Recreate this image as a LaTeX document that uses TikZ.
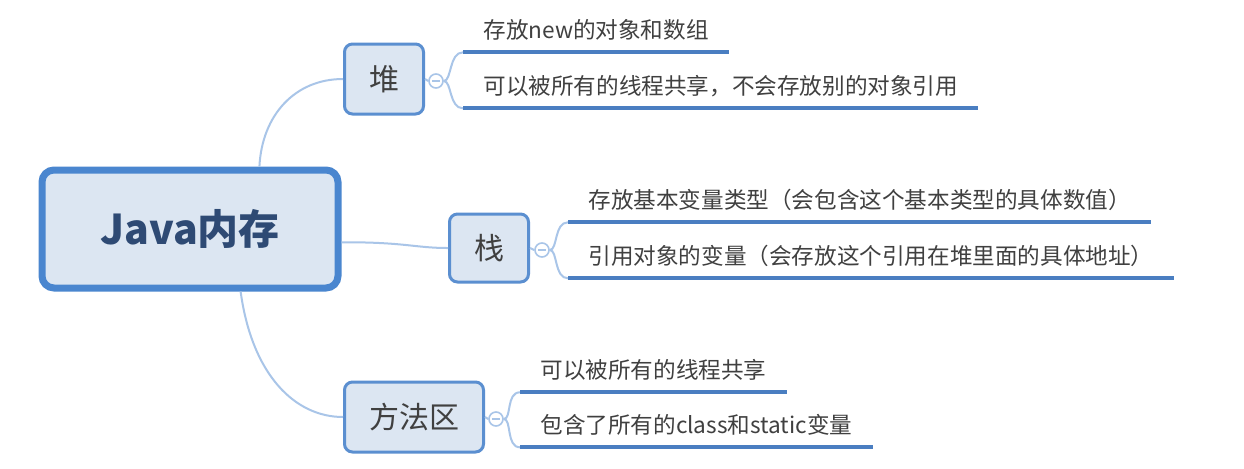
\documentclass[tikz,border=0pt]{standalone}
\usepackage{fontspec}
\setmainfont{Noto Sans CJK SC}
\usetikzlibrary{positioning}
\definecolor{boxfill}{HTML}{DCE6F2}
\definecolor{boxline}{HTML}{5B8FD0}
\definecolor{rootline}{HTML}{4A86CF}
\definecolor{branch}{HTML}{A9C5E8}
\definecolor{ulinec}{HTML}{4A7EC1}
\definecolor{roottext}{HTML}{2E4A74}
\definecolor{leaftext}{HTML}{404040}

\begin{document}
\begin{tikzpicture}[
  x=0.5pt, y=-0.5pt,
  rootbox/.style={draw=rootline, line width=3.5pt, fill=boxfill, rounded corners=6pt, minimum width=148pt, minimum height=59pt, inner sep=0pt, text=roottext, font=\fontsize{20.5}{24}\selectfont\bfseries},
  topic/.style={draw=boxline, line width=1.5pt, fill=boxfill, rounded corners=4pt, minimum height=35pt, inner sep=0pt, text=leaftext, font=\fontsize{15}{18}\selectfont},
  fold/.style={circle, draw=branch, line width=0.8pt, fill=white, minimum size=7pt, inner sep=0pt,
    path picture={\draw[branch, line width=0.6pt] (path picture bounding box.center) +(-2pt,0) -- +(2pt,0);}},
  leaf/.style={anchor=base west, inner xsep=10pt, inner ysep=6.7pt, text depth=0pt, text=leaftext, font=\fontsize{11.3}{13}\selectfont},
  conn/.style={draw=branch, line width=1pt},
  uline/.style={draw=ulinec, line width=2pt},
]
\useasboundingbox[fill=white] (0,0) rectangle (1244,468);

% --- Central topic ---
\node[rootbox] (mem) at (190,229) {Java内存};

% --- Main branches ---
\node[topic, minimum width=39.5pt] (heap) at (384,79) {堆};
\node[topic, minimum width=39.5pt, minimum height=34pt] (stack) at (489,248) {栈};
\node[topic, minimum width=69.5pt] (meth) at (414,417) {方法区};

\draw[conn] (mem.42) .. controls (262,115) and (295,79) .. (heap.west);
\draw[conn] (mem.-5) .. controls (405,242) and (415,248) .. (stack.west);
\draw[conn] (mem.-51) .. controls (252,375) and (295,417) .. (meth.west);

% Fold markers
\node[fold] (fheap) at (436,81) {};
\node[fold] (fstack) at (542,250) {};
\node[fold] (fmeth) at (496,419) {};
\draw[conn] (heap.east) -- (fheap.west);
\draw[conn] (stack.east) -- (fstack.west);
\draw[conn] (meth.east) -- (fmeth.west);

% --- Heap ---
\node[leaf] (h1) at (463,38.5) {存放new的对象和数组};
\node[leaf] (h2) at (463,94.5) {可以被所有的线程共享，不会存放别的对象引用};

% --- Stack ---
\node[leaf] (s1) at (568,208.5) {存放基本变量类型（会包含这个基本类型的具体数值）};
\node[leaf] (s2) at (568,264.5) {引用对象的变量（会存放这个引用在堆里面的具体地址）};

% --- Method area ---
\node[leaf] (m1) at (520,378.5) {可以被所有的线程共享};
\node[leaf] (m2) at (520,433.5) {包含了所有的class和static变量};

% Sub-branch curves
\foreach \f/\a/\b in {fheap/h1/h2, fstack/s1/s2, fmeth/m1/m2} {
  \draw[conn] (\f.east) .. controls +(8,0) and +(-14,0) .. (\a.south west);
  \draw[conn] (\f.east) .. controls +(8,0) and +(-14,0) .. (\b.south west);
}
\foreach \t in {h1,h2,s1,s2,m1,m2}
  \draw[uline] (\t.south west) -- (\t.south east);

\end{tikzpicture}
\end{document}
